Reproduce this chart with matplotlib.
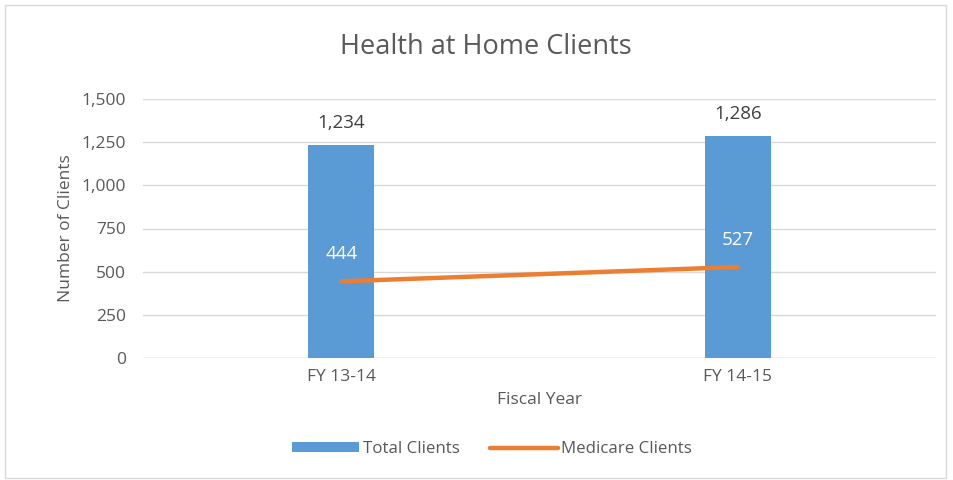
import matplotlib
matplotlib.use("Agg")
import matplotlib.pyplot as plt
from matplotlib.patches import Rectangle
import numpy as np

categories = ["FY 13-14", "FY 14-15"]
total_clients = [1234, 1286]
medicare_clients = [444, 527]
yticks = [0, 250, 500, 750, 1000, 1250, 1500]

plt.rcParams['font.family'] = ['Open Sans', 'DejaVu Sans']
txt = '#595959'
blue = '#5B9BD5'
orange = '#ED7D31'

fig = plt.figure(figsize=(9.54, 4.8), dpi=100)
ax = fig.add_axes([143/954, 1-358/480, (936-143)/954, (358-99)/480])

x = np.arange(len(categories))
b = ax.bar(x, total_clients, width=0.167, color=blue, label='Total Clients', zorder=2)
l, = ax.plot(x, medicare_clients, color=orange, lw=3.2, solid_capstyle='round', label='Medicare Clients', zorder=3)

for xi, v in zip(x, total_clients):
    ax.annotate(f"{v:,}", (xi, v), xytext=(0, 9), textcoords='offset points',
                ha='center', va='bottom', fontsize=13.5, color='#404040')
for xi, v in zip(x, medicare_clients):
    ax.annotate(f"{v:,}", (xi, v), xytext=(0, 13), textcoords='offset points',
                ha='center', va='bottom', fontsize=13.5, color='white')

ax.set_xlim(-0.5, 1.5)
ax.set_ylim(0, 1500)
ax.set_yticks(yticks)
ax.set_yticklabels([f"{t:,}" for t in yticks], fontsize=12.5, color=txt)
ax.set_xticks(x)
ax.set_xticklabels(categories, fontsize=12.5, color=txt)
ax.tick_params(axis='y', length=0, pad=12)
ax.tick_params(axis='x', length=0, pad=8)
ax.grid(axis='y', color='#D9D9D9', lw=1, zorder=0)
ax.set_axisbelow(True)
for s in ax.spines.values():
    s.set_visible(False)
ax.axhline(0, color='#D9D9D9', lw=1, zorder=1)

ax.set_xlabel("Fiscal Year", fontsize=12.5, color=txt, labelpad=5)
ax.set_ylabel("Number of Clients", fontsize=12.5, color=txt, labelpad=6)

fig.text(486/954, 1-47/480, "Health at Home Clients", ha='center', va='center', fontsize=19.5, color=txt)

leg = fig.legend([b, l], ['Total Clients', 'Medicare Clients'], loc='center',
                 bbox_to_anchor=(492/954, 1-449/480), ncol=2, frameon=False,
                 fontsize=12.2, labelcolor=txt, handlelength=4, handleheight=0.5,
                 columnspacing=1.8, handletextpad=0.2)

fig.patches.append(Rectangle((5/954, 2/480), 941/954, 473/480, transform=fig.transFigure,
                             fill=False, edgecolor='#D9D9D9', lw=1))

fig.savefig("out.png", dpi=100)
